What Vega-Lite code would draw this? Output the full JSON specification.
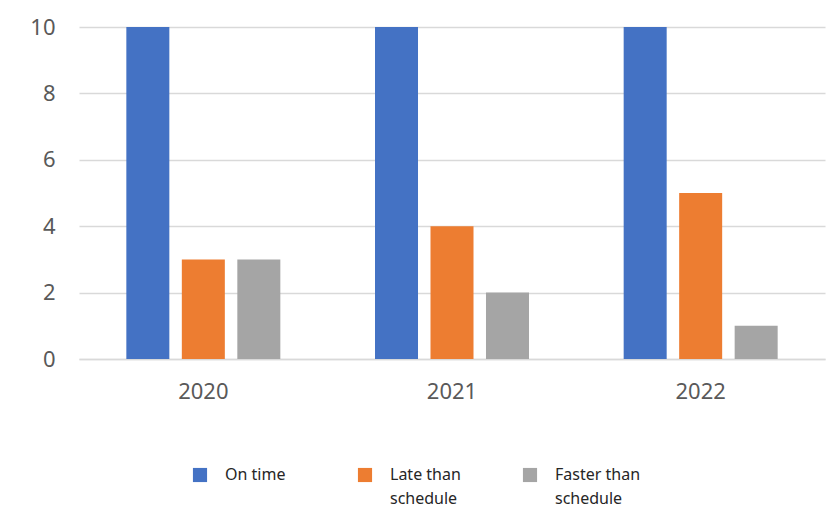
{
  "$schema": "https://vega.github.io/schema/vega-lite/v6.json",
  "autosize": {"type": "none"},
  "width": 746,
  "height": 332,
  "padding": {"left": 79, "top": 27, "right": 14, "bottom": 147},
  "background": "white",
  "config": {"view": {"stroke": null}, "font": "Noto Sans"},
  "data": {
    "values": [
      {"year": "2020", "status": "On time", "value": 10},
      {"year": "2020", "status": "Late than schedule", "value": 3},
      {"year": "2020", "status": "Faster than schedule", "value": 3},
      {"year": "2021", "status": "On time", "value": 10},
      {"year": "2021", "status": "Late than schedule", "value": 4},
      {"year": "2021", "status": "Faster than schedule", "value": 2},
      {"year": "2022", "status": "On time", "value": 10},
      {"year": "2022", "status": "Late than schedule", "value": 5},
      {"year": "2022", "status": "Faster than schedule", "value": 1}
    ]
  },
  "mark": {"type": "bar"},
  "encoding": {
    "x": {
      "field": "year", "type": "nominal",
      "scale": {"paddingInner": 0, "paddingOuter": 0},
      "axis": {
        "title": null, "labelAngle": 0, "ticks": false,
        "domain": true, "domainColor": "#d9d9d9", "domainWidth": 1.5,
        "labelFont": "Noto Sans", "labelFontSize": 22, "labelColor": "#595959",
        "labelPadding": 22
      }
    },
    "xOffset": {
      "field": "status", "type": "nominal",
      "sort": ["On time", "Late than schedule", "Faster than schedule"],
      "scale": {"paddingInner": 0.225, "paddingOuter": 0.853}
    },
    "y": {
      "field": "value", "type": "quantitative",
      "scale": {"domain": [0, 10], "nice": false},
      "axis": {
        "title": null, "values": [0, 2, 4, 6, 8, 10],
        "domain": false, "ticks": false,
        "grid": true, "gridColor": "#d9d9d9", "gridWidth": 1.5,
        "labelFont": "Noto Sans", "labelFontSize": 22, "labelColor": "#595959",
        "labelPadding": 24
      }
    },
    "color": {
      "field": "status", "type": "nominal",
      "sort": ["On time", "Late than schedule", "Faster than schedule"],
      "scale": {
        "domain": ["On time", "Late than schedule", "Faster than schedule"],
        "range": ["#4472c4", "#ed7d31", "#a5a5a5"]
      },
      "legend": {
        "title": null,
        "orient": "none",
        "legendX": 113,
        "legendY": 440,
        "direction": "horizontal",
        "columns": 3,
        "gridAlign": "all",
        "columnPadding": 46,
        "symbolType": "square",
        "symbolSize": 200,
        "symbolStrokeWidth": 0,
        "labelFont": "Noto Sans",
        "labelFontSize": 16,
        "labelColor": "#262626",
        "labelOffset": 17,
        "labelLimit": 200,
        "labelBaseline": "top",
        "labelExpr": "datum.label == 'On time' ? ['On time', ' '] : (datum.label == 'Late than schedule' ? ['Late than', 'schedule'] : ['Faster than', 'schedule'])",
        "encode": {"labels": {"update": {"lineHeight": {"value": 24}, "dy": {"value": -8}}}}
      }
    }
  }
}
